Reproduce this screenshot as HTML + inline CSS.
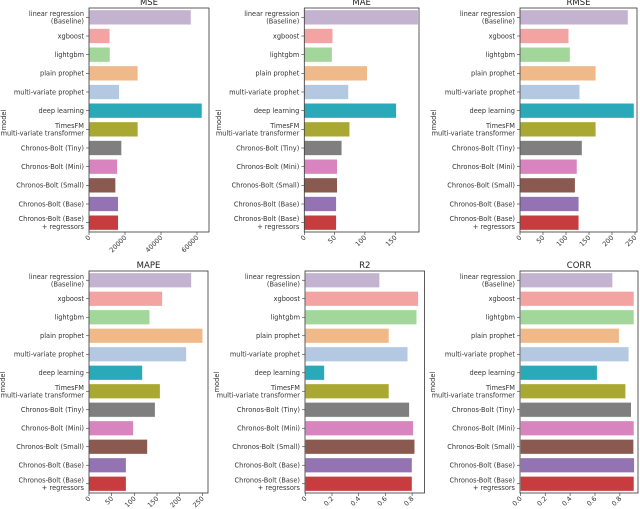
<!DOCTYPE html>
<html><head><meta charset="utf-8">
<style>
html,body{margin:0;padding:0;background:#fff;}
svg{display:block;font-family:"DejaVu Sans","Liberation Sans",sans-serif;}
</style></head>
<body>
<svg id="chart" width="640" height="509" viewBox="0 0 640 509" xmlns="http://www.w3.org/2000/svg"></svg>
<script>
const models = ["linear regression\n(Baseline)","xgboost","lightgbm","plain prophet","multi-variate prophet","deep learning","TimesFM\nmulti-variate transformer","Chronos-Bolt (Tiny)","Chronos-Bolt (Mini)","Chronos-Bolt (Small)","Chronos-Bolt (Base)","Chronos-Bolt (Base)\n+ regressors"];
const colors = ["#c3b3d1","#f2a3a2","#a3d69a","#efb98a","#b5c8e2","#2aa9b8","#a9a832","#7f7f7f","#d884bf","#8a5a50","#9473b2","#c73c3e"];
const mseValues = [56700,11600,11700,27200,16900,62800,27200,18100,15800,14800,16300,16300];
const maeValues = [188,47,46,104,73,152,75,62,54.5,54.5,53,53];
const rmseValues = [235,106,109,165,130,248,165,135,124,120,128,128];
const mapeValues = [226,162,134,251,215,118,157,146,98,129,82,82];
const r2Values = [0.557,0.847,0.835,0.627,0.768,0.144,0.627,0.78,0.81,0.82,0.80,0.80];
const corrValues = [0.742,0.914,0.914,0.795,0.873,0.618,0.847,0.892,0.914,0.911,0.917,0.914];
const mseTicks = [0,20000,40000,60000];
const maeTicks = [0,50,100,150];
const rmseTicks = [0,50,100,150,200,250];
const mapeTicks = [0,50,100,150,200,250];
const r2Ticks = [0,0.2,0.4,0.6,0.8];
const corrTicks = [0,0.2,0.4,0.6,0.8];

const NS="http://www.w3.org/2000/svg";
const svg=document.getElementById('chart');
function mk(tag,attrs,parent){const e=document.createElementNS(NS,tag);for(const k in attrs)e.setAttribute(k,attrs[k]);(parent||svg).appendChild(e);return e;}

function panel(cfg){
  const g=mk('g',{});
  
  
  const {x0,x1,y0,y1,v0,v1}=cfg;
  const sx=v=>x0+(v-v0)/(v1-v0)*(x1-x0);
  const n=models.length, rh=(y1-y0)/n;
  const t=mk('text',{x:(x0+x1)/2,y:y0-3,'text-anchor':'middle','font-size':8.5,fill:'#222'},g);
  t.textContent=cfg.title;
  
  
  cfg.values.forEach((v,i)=>{
    const cy=y0+rh*(i+0.5);
    const r=mk('rect',{x:sx(0),y:cy-rh*0.4,width:Math.max(0,sx(v)-sx(0)),height:rh*0.8,fill:colors[i],stroke:'#fff','stroke-width':0.6},g);
    
    
    mk('line',{x1:x0-3,x2:x0,y1:cy,y2:cy,stroke:'#333','stroke-width':0.6},g);
    const lines=models[i].split('\n');
    const lab=mk('text',{x:x0-5,y:cy,'text-anchor':'end','font-size':6.6,fill:'#333'},g);
    
    
    lines.forEach((s,j)=>{const ts=mk('tspan',{x:x0-5,dy:j==0?(lines.length==1?2.4:-1.5):7.6},lab);ts.textContent=s;});
  });
  mk('rect',{x:x0,y:y0,width:x1-x0,height:y1-y0,fill:'none',stroke:'#333','stroke-width':0.8},g);
  cfg.ticks.forEach(tv=>{
    const tx=sx(tv);
    mk('line',{x1:tx,x2:tx,y1:y1,y2:y1+3,stroke:'#333','stroke-width':0.6},g);
    const lt=mk('text',{x:tx+2,y:y1+6,'text-anchor':'end','font-size':6.6,fill:'#333',transform:`rotate(-45 ${tx+2} ${y1+6})`},g);
    lt.textContent=cfg.fmt?cfg.fmt(tv):String(tv);
    
    
  });
  const ay=mk('text',{x:cfg.ylx,y:(y0+y1)/2,'text-anchor':'middle','font-size':6.6,fill:'#333',transform:`rotate(-90 ${cfg.ylx} ${(y0+y1)/2})`},g);
  ay.textContent='model';
  
  
}
const f1=v=>v.toFixed(1);
panel({key:'mse',title:'MSE',values:mseValues,ticks:mseTicks,x0:89,x1:209,y0:8,y1:232,v0:0,v1:(209-89)/36*20000,ylx:6});
panel({key:'mae',title:'MAE',values:maeValues,ticks:maeTicks,x0:304.3,x1:419,y0:8,y1:232,v0:0,v1:(419-304.3)/30.3*50,ylx:221});
panel({key:'rmse',title:'RMSE',values:rmseValues,ticks:rmseTicks,x0:520,x1:637,y0:8,y1:232,v0:0,v1:(637-520)/23*50,ylx:436});
panel({key:'mape',title:'MAPE',values:mapeValues,ticks:mapeTicks,x0:89,x1:208,y0:271,y1:493,v0:0,v1:(208-89)/22.67*50,ylx:5});
panel({key:'r2',title:'R2',values:r2Values,ticks:r2Ticks,x0:305,x1:424.5,y0:271,y1:493,v0:-0.002,v1:(424.5-305.3)/26.7*0.2,ylx:219});
panel({key:'corr',title:'CORR',values:corrValues,ticks:corrTicks,x0:520,x1:638,y0:271,y1:493,v0:-0.003,v1:(638-520.7)/24.8*0.2,ylx:435,fmt:f1});
</script>
</body></html>
